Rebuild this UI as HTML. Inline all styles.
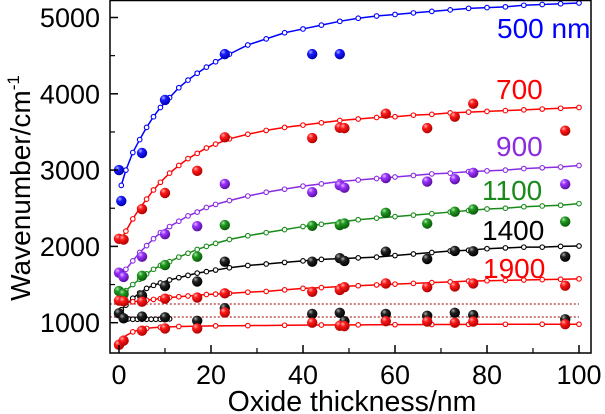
<!DOCTYPE html>
<html><head><meta charset="utf-8"><style>
html,body{margin:0;padding:0;background:#fff;}
svg{display:block;font-family:"Liberation Sans",Arial,sans-serif;}
</style></head><body>
<svg id="chart" width="605" height="414" viewBox="0 0 605 414" xmlns="http://www.w3.org/2000/svg">
<defs>
<radialGradient id="gb" cx="35%" cy="30%" r="70%"><stop offset="0" stop-color="#aab0ff"/><stop offset="0.35" stop-color="#1a1aff"/><stop offset="1" stop-color="#0000b0"/></radialGradient>
<radialGradient id="gr" cx="35%" cy="30%" r="70%"><stop offset="0" stop-color="#ffb0b0"/><stop offset="0.35" stop-color="#ff1a1a"/><stop offset="1" stop-color="#b00000"/></radialGradient>
<radialGradient id="gp" cx="35%" cy="30%" r="70%"><stop offset="0" stop-color="#e0c0ff"/><stop offset="0.35" stop-color="#9a33ff"/><stop offset="1" stop-color="#5a10a0"/></radialGradient>
<radialGradient id="gg" cx="35%" cy="30%" r="70%"><stop offset="0" stop-color="#b0e0b0"/><stop offset="0.35" stop-color="#1f9a1f"/><stop offset="1" stop-color="#0a5a0a"/></radialGradient>
<radialGradient id="gk" cx="35%" cy="30%" r="70%"><stop offset="0" stop-color="#aaaaaa"/><stop offset="0.35" stop-color="#222"/><stop offset="1" stop-color="#000"/></radialGradient>
</defs>
<g id="plot"></g>
<rect x="110" y="0.5" width="481" height="352.5" fill="none" stroke="#000" stroke-width="1.5"/>
<g id="axes"></g>
<text transform="translate(30,188) rotate(-90)" text-anchor="middle" font-size="28" fill="#000">Wavenumber/cm<tspan font-size="17" dy="-11">-1</tspan></text>
<text x="352" y="411" text-anchor="middle" font-size="28.5" fill="#000">Oxide thickness/nm</text>
<text x="497" y="38" font-size="28" fill="#0000ff">500 nm</text>
<text x="496" y="99" font-size="28" fill="#ff0000">700</text>
<text x="496" y="156" font-size="28" fill="#8a2be2">900</text>
<text x="482" y="200" font-size="28" fill="#1a8a1a">1100</text>
<text x="482" y="240" font-size="28" fill="#000">1400</text>
<text x="483" y="278" font-size="28" fill="#ff0000">1900</text>
</svg>
<script>
const xTicks=[0,20,40,60,80,100];
const yTicks=[1000,2000,3000,4000,5000];
const openX=[0.5,1.5,3,4.5,6,7.5,9,11,13,15,17,19,21,24,28,32,36,40,44,48,52,56,60,64,68,72,76,80,84,88,92,96,100];
const blueOpen=[2800,3000,3230,3400,3560,3700,3820,3950,4080,4180,4270,4350,4420,4520,4640,4720,4800,4850,4900,4950,4990,5020,5040,5060,5080,5100,5120,5130,5140,5160,5170,5180,5190];
const red700Open=[2100,2200,2360,2500,2620,2740,2840,2960,3060,3150,3220,3290,3340,3410,3470,3520,3560,3590,3620,3650,3670,3690,3700,3720,3730,3750,3760,3770,3780,3790,3800,3810,3820];
const purpleOpen=[1620,1700,1810,1920,2010,2100,2180,2260,2330,2400,2450,2510,2550,2600,2660,2710,2750,2790,2820,2850,2870,2890,2910,2930,2950,2960,2980,2990,3000,3020,3030,3040,3060];
const greenOpen=[1360,1420,1500,1570,1640,1700,1750,1800,1860,1910,1960,2000,2040,2090,2140,2180,2220,2260,2290,2320,2350,2370,2390,2410,2430,2450,2470,2490,2500,2520,2530,2540,2560];
const blackOpen=[1170,1230,1320,1390,1450,1490,1520,1560,1590,1620,1650,1670,1690,1720,1750,1770,1790,1810,1830,1840,1850,1860,1880,1900,1920,1940,1950,1970,1980,1990,1990,2000,2005];
const red1900Open=[1260,1265,1275,1285,1295,1305,1315,1330,1340,1350,1360,1370,1375,1385,1400,1410,1430,1450,1460,1475,1485,1495,1505,1515,1525,1535,1545,1550,1555,1560,1565,1570,1575];
const redLowOpen=[760,830,880,910,925,935,940,945,950,952,955,957,958,960,962,964,966,968,970,971,972,973,974,975,976,977,978,979,979,980,980,980,980];
const blackShortX=[1,2,3,4,5,6,7,8,9,10,11];
const blackShortY=[1060,1050,1045,1045,1045,1045,1045,1045,1045,1048,1050];
const dottedLevels=[1245,1075];
const filledX=[0,1,5,10,17,23,42,48,49,58,67,73,77,97];
const blueFX=[0,0.5,5,10,23,42,48];
const blueFY=[3000,2595,3224,3920,4520,4520,4520];
const red700FY=[2100,2090,2490,2700,2990,3430,3420,3555,3550,3740,3550,3700,3870,3516];
const purpleFY=[1655,1600,1865,2160,2265,2818,2710,2800,2770,2895,2850,2880,2965,2815];
const greenFY=[1415,1375,1615,1755,1865,2280,2270,2280,2300,2440,2300,2455,2485,2325];
const blackFY=[1850,1840,1355,1480,1540,1800,1800,1845,1810,1930,1835,1940,1935,1865];
const red1900FY=[1290,1280,1275,1315,1330,1385,1405,1430,1465,1515,1465,1475,1515,1485];
const blackLowFY=[1123,1058,1080,1070,1025,1190,1115,1130,1020,1115,1090,1130,1100,1045];
const redLowFY=[710,765,895,925,925,1135,1000,960,955,1020,1015,1000,1015,980];

const NS="http://www.w3.org/2000/svg";
const xs=v=>119+v*4.6;
const ys=v=>322.7-(v-1000)*0.0763;
const plot=document.getElementById('plot');
const axes=document.getElementById('axes');
function mk(tag,attrs,parent){const e=document.createElementNS(NS,tag);for(const k in attrs)e.setAttribute(k,attrs[k]);parent.appendChild(e);return e;}

dottedLevels.forEach((v,i)=>{
 const l=mk('line',{x1:xs(-2),x2:xs(100),y1:ys(v),y2:ys(v),stroke:'#b03030','stroke-width':1.2,'stroke-dasharray':'2,2'},plot);
 
 
});

function drawLineSeries(xArr,yArr,color,name,every){
 const pts=xArr.map((x,i)=>xs(x)+','+ys(yArr[i])).join(' ');
 const pl=mk('polyline',{points:pts,fill:'none',stroke:color,'stroke-width':1.5},plot);
 
 
 xArr.forEach((x,i)=>{
  if(i%every)return;
  const c=mk('circle',{cx:xs(x),cy:ys(yArr[i]),r:2.3,fill:'#fff',stroke:color,'stroke-width':1.1},plot);
  
  
 });
}
drawLineSeries(openX,blueOpen,'#0000ff','series-500nm',1);
drawLineSeries(openX,red700Open,'#ff0000','series-700',1);
drawLineSeries(openX,purpleOpen,'#8a2be2','series-900',1);
drawLineSeries(openX,greenOpen,'#1a8a1a','series-1100',1);
drawLineSeries(openX,blackOpen,'#000','series-1400',1);
drawLineSeries(openX,red1900Open,'#ff0000','series-1900',1);
drawLineSeries(openX,redLowOpen,'#ff0000','series-low',2);
drawLineSeries(blackShortX,blackShortY,'#000','series-black-short',1);

function drawFilled(xArr,yArr,grad,name){
 xArr.forEach((x,i)=>{
  const c=mk('circle',{cx:xs(x),cy:ys(yArr[i]),r:5.2,fill:'url(#'+grad+')'},plot);
  
  
 });
}
drawFilled(blueFX,blueFY,'gb','series-500nm');
drawFilled(filledX,red700FY,'gr','series-700');
drawFilled(filledX,purpleFY,'gp','series-900');
drawFilled(filledX,greenFY,'gg','series-1100');
drawFilled(filledX.slice(2),blackFY.slice(2),'gk','series-1400');
drawFilled(filledX,red1900FY,'gr','series-1900');
drawFilled(filledX,blackLowFY,'gk','series-black-low');
drawFilled(filledX,redLowFY,'gr','series-red-low');

xTicks.forEach(t=>{
 const l=mk('line',{x1:xs(t),x2:xs(t),y1:353,y2:345,stroke:'#000','stroke-width':1.5},axes);
 
 
 const tx=mk('text',{x:xs(t),y:384,'text-anchor':'middle','font-size':27,fill:'#000'},axes);
 tx.textContent=t;
 
 
 if(t<100){const m=mk('line',{x1:xs(t+10),x2:xs(t+10),y1:353,y2:348,stroke:'#000','stroke-width':1.2},axes);
 
 }
});
yTicks.forEach(t=>{
 const l=mk('line',{x1:110,x2:118,y1:ys(t),y2:ys(t),stroke:'#000','stroke-width':1.5},axes);
 
 
 const m=mk('line',{x1:110,x2:115,y1:ys(t+500),y2:ys(t+500),stroke:'#000','stroke-width':1.2},axes);
 
 
 const tx=mk('text',{x:100,y:ys(t)+9.5,'text-anchor':'end','font-size':27,fill:'#000'},axes);
 tx.textContent=t;
 
 
});
</script>
</body></html>
